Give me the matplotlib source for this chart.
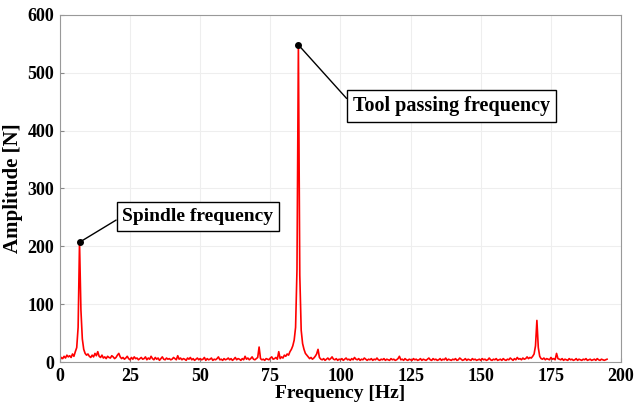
import numpy as np
import matplotlib.pyplot as plt

plt.rcParams['font.family'] = ['Liberation Serif', 'DejaVu Serif']
plt.rcParams['font.weight'] = 'bold'

# Spectrum, 0.5 Hz steps starting at 0 Hz
freq_step = 0.5
amplitude = [
    3, 8, 6, 10, 7, 12, 9, 11, 8, 14, 10, 18, 25, 60, 207, 90, 40, 22, 15, 12,
    14, 10, 8, 12, 9, 15, 11, 18, 10, 8, 12, 7, 9, 6, 10, 8, 7, 11, 9, 6,
    8, 12, 15, 9, 6, 8, 5, 7, 10, 6, 4, 8, 5, 9, 6, 7, 4, 6, 8, 5,
    6, 9, 4, 7, 5, 10, 6, 4, 8, 5, 7, 3, 6, 9, 5, 4, 7, 5, 6, 4,
    5, 8, 6, 4, 11, 5, 7, 4, 6, 5, 3, 7, 5, 8, 4, 6, 3, 5, 7, 4,
    6, 4, 5, 8, 3, 6, 4, 5, 7, 3, 5, 4, 6, 9, 4, 5, 3, 6, 4, 5,
    7, 4, 6, 3, 5, 8, 4, 6, 5, 3, 6, 4, 10, 5, 7, 4, 6, 9, 5, 4,
    6, 8, 26, 6, 4, 5, 3, 6, 5, 4, 7, 9, 5, 6, 8, 5, 18, 6, 9, 7,
    12, 10, 14, 12, 18, 22, 28, 38, 60, 160, 548, 150, 55, 32, 22, 15, 12, 9, 6, 8,
    5, 7, 10, 14, 22, 8, 5, 4, 6, 3, 5, 7, 4, 6, 9, 5, 4, 6, 3, 5,
    4, 6, 3, 5, 7, 4, 5, 3, 6, 4, 8, 5, 4, 6, 3, 5, 4, 7, 5, 3,
    5, 4, 6, 3, 5, 4, 7, 4, 3, 5, 4, 6, 3, 5, 4, 3, 6, 4, 5, 3,
    4, 6, 10, 4, 5, 3, 6, 4, 3, 5, 4, 3, 6, 4, 5, 3, 4, 6, 3, 5,
    4, 3, 5, 7, 4, 3, 6, 4, 5, 3, 4, 6, 3, 5, 4, 7, 3, 5, 4, 3,
    5, 4, 6, 3, 4, 7, 5, 3, 4, 6, 3, 5, 4, 3, 6, 4, 5, 3, 4, 5,
    3, 6, 4, 5, 3, 4, 7, 4, 3, 5, 4, 6, 3, 4, 5, 3, 6, 4, 3, 5,
    4, 7, 5, 3, 6, 4, 8, 5, 6, 4, 7, 5, 6, 9, 6, 8, 7, 10, 14, 28,
    72, 25, 10, 6, 5, 7, 4, 6, 5, 4, 8, 5, 6, 4, 15, 6, 5, 4, 6, 3,
    5, 4, 3, 6, 4, 5, 3, 4, 6, 3, 5, 4, 3, 5, 4, 6, 3, 4, 5, 3,
    4, 5, 3, 6, 4, 3, 5, 4, 3, 4, 5,
]
frequency = np.arange(len(amplitude)) * freq_step

spindle = (7, 207)
tool_pass = (85, 548)

fig = plt.figure(figsize=(6.37, 4.11), dpi=100)
ax = fig.add_axes([0.094, 0.119, 0.881, 0.845])

ax.plot(frequency, amplitude, color='red', linewidth=1.2)

# annotation markers + boxes
box = dict(boxstyle='square,pad=0.3', fc='white', ec='black', lw=1.0)
arrow = dict(arrowstyle='-', color='black', lw=1.0, shrinkA=0, shrinkB=0,
             relpos=(0, 0.5))
ax.plot(*spindle, 'ko', markersize=4)
ax.annotate('Spindle frequency', xy=spindle, xytext=(22.3, 252),
            fontsize=14, fontweight='bold', va='center', ha='left',
            bbox=box, arrowprops=arrow)
ax.plot(*tool_pass, 'ko', markersize=4)
ax.annotate('Tool passing frequency', xy=tool_pass, xytext=(104.5, 443),
            fontsize=14.5, fontweight='bold', va='center', ha='left',
            bbox=box, arrowprops=arrow)

ax.set_xlim(0, 200)
ax.set_ylim(0, 600)
ax.set_xticks(np.arange(0, 201, 25))
ax.set_yticks(np.arange(0, 601, 100))
ax.set_xlabel('Frequency [Hz]', fontsize=14, fontweight='bold', labelpad=0)
ax.set_ylabel('Amplitude [N]', fontsize=15, fontweight='bold', labelpad=3)
ax.tick_params(direction='in', labelsize=13, length=3, color='#888888', pad=4)
for lab in ax.get_xticklabels() + ax.get_yticklabels():
    lab.set_fontweight('bold')
for sp in ax.spines.values():
    sp.set_color('#999999')
ax.grid(True, color='#eeeeee', linewidth=0.8)

fig.savefig('out.png', dpi=100)
